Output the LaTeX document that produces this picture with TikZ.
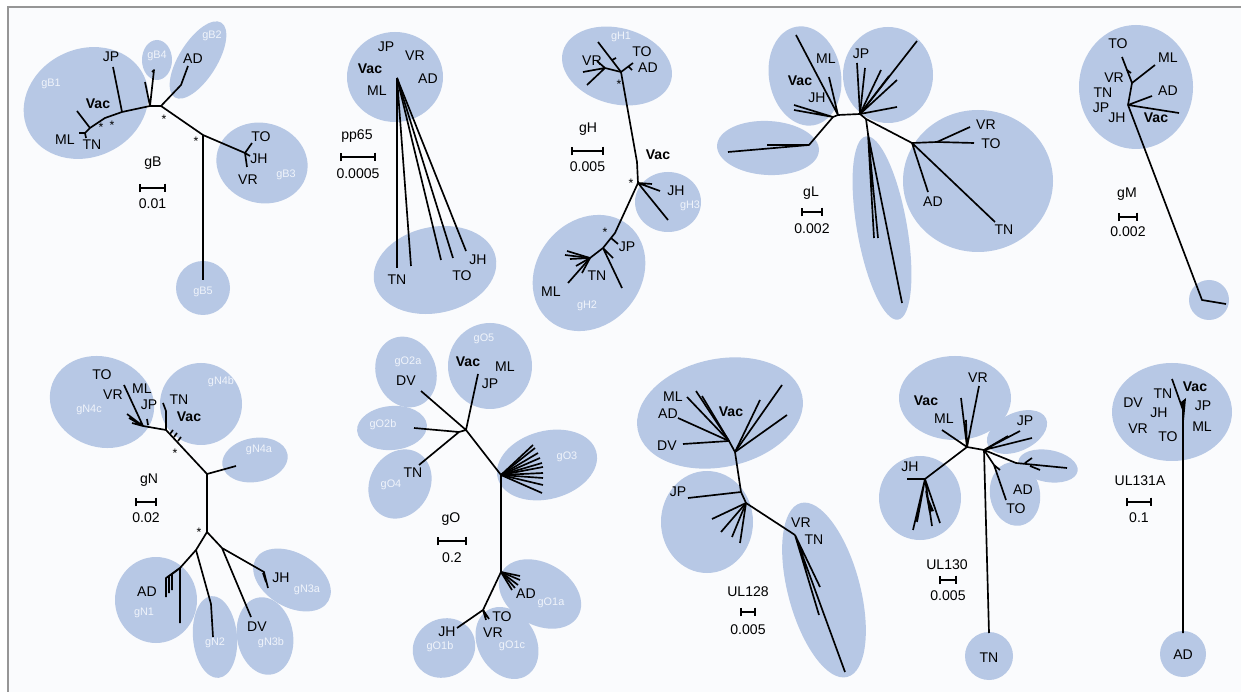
\documentclass[tikz,border=0pt]{standalone}
\usepackage{fontspec}
\setmainfont{Liberation Sans}
\usetikzlibrary{arrows.meta}
\definecolor{cladeblue}{RGB}{183,200,229}
\definecolor{tagwhite}{RGB}{240,244,251}
\definecolor{panelbg}{RGB}{250,251,253}
\definecolor{framegray}{RGB}{150,150,150}
\tikzset{
    clade/.style={fill=cladeblue},
    branch/.style={line width=0.95pt, line join=round},
    taxon/.style={font=\fontsize{8}{9}\selectfont, inner sep=0pt},
    vac/.style={taxon, font=\fontsize{8}{9}\selectfont\bfseries},
    tag/.style={text=tagwhite, font=\fontsize{6.2}{7}\selectfont, inner sep=0pt},
    star/.style={font=\fontsize{7}{7}\selectfont, inner sep=0pt, yshift=-1.5pt},
    scalebar/.style={line width=0.95pt, {Bar[width=5pt]}-{Bar[width=5pt]}},
}

\begin{document}
\begin{tikzpicture}[x=0.02cm, y=-0.02cm]
    % Canvas and frame
    \useasboundingbox (0,0) rectangle (1241,692);
    \fill[white] (0,0) rectangle (1241,692);
    \fill[panelbg] (8,7) rectangle (1241,692);
    \draw[framegray, line width=0.9pt] (8,692) -- (8,7) -- (1241,7);

    % Clade ellipses
    \foreach \cx/\cy/\rx/\ry/\a in {
        86/103/64/54/25, 157/60/15/20/0, 198/60/44/19/58, 262/163/46/40/-15, 203/288/27/27/0,
        395/77/48/45/0, 435/270/62/43/12,
        617/66/56/38/-15, 668/202/33/30/0, 589/273/62/52/50,
        805/76/36/50/10, 888/75/45/48/0, 768/148/51/27/-3, 882/228/25/93/10, 978/181/75/71/0,
        1136/87/57/62/0, 1209/300/20/20/0,
        102/402/53/45/-20, 201/404/41/41/0, 255/460/33/22/10, 156/600/41/43/0,
        215/637/22/41/5, 265/636/28/39/10, 292/580/42/27/-30,
        490/366/42/43/0, 406/372/30/36/20, 392/428/35/22/5, 400/484/30/36/-30,
        547/465/51/34/15, 540/594/44/31/-30, 444/648/32/29/30, 507/643/29/38/30,
        720/413/84/54/12, 707/522/46/51/0, 824/590/36/90/15,
        955/398/56/42/0, 1017/432/32/19/25, 1048/466/30/16/-10, 1015/494/25/32/10,
        920/498/41/42/0, 989/656/24/24/0,
        1172/412/60/49/0, 1183/654/23/23/0}
        \fill[clade, rotate around={\a:(\cx,\cy)}] (\cx,\cy) ellipse[x radius=\rx, y radius=\ry];

    % Clade tags
    \foreach \t/\x/\y in {gB1/51/84, gB4/157/56, gB2/212/36, gB3/286/175, gB5/203/292,
        gH1/621/37, gH3/690/206, gH2/587/306,
        gN4c/89/410, gN4b/221/382, gN4a/259/450, gN1/144/613, gN2/215/643, gN3b/271/643, gN3a/307/590,
        gO5/484/339, gO2a/408/362, gO2b/383/425, gO4/391/485, gO3/567/457, gO1a/551/603, gO1b/440/647, gO1c/512/646}
        \node[tag] (tag-\t) at (\x,\y) {\t};

    % Gene names and scale bars
    \foreach \g/\gx/\gy/\xa/\xb/\by/\v/\vy in {
        gB/153/163/139/166/188/0.01/204, pp65/357/136/340/376/157/0.0005/174,
        gH/588/129/571/604/151/0.005/167, gL/811/193/801/823/212/0.002/229,
        gM/1127/194/1118/1138/217/0.002/232, gN/149/480/135/157/502/0.02/518,
        gO/451/519/437/467/541/0.2/558, UL128/748/592/740/756/612/0.005/630,
        UL130/947/565/939/957/580/0.005/596, UL131A/1140/481/1126/1152/502/0.1/518} {
        \node[taxon] (gene-\g) at (\gx,\gy) {\g};
        \draw[scalebar] (\xa,\by) -- (\xb,\by);
        \node[taxon] (scale-\g) at ({(\xa+\xb)/2},\vy) {\v};
    }

    % Tree gB
    \coordinate (b1) at (150,106);
    \coordinate (b2) at (161,106);
    \coordinate (b3) at (122,112);
    \coordinate (b4) at (105,118);
    \coordinate (b5) at (90,128);
    \coordinate (b6) at (85,133);
    \coordinate (b7) at (203,135);
    \coordinate (b8) at (245,153);
    \coordinate (b9) at (181,85);
    \draw[branch] (b2) -- (b1) -- (b3) -- (b4) -- (b5) -- (b6);
    \draw[branch] (b3) -- (113,67) (b5) -- (77,111);
    \draw[branch] (b6) -- (79,133) (b6) -- (86,138);
    \draw[branch] (b1) -- (154,70) -- (152,72) (b1) -- (145,82);
    \draw[branch] (b2) -- (b9) -- (188,66);
    \draw[branch] (b2) -- (b7) -- (b8);
    \draw[branch] (b8) -- (252,143) (b8) -- (250,156) (b8) -- (247,167);
    \draw[branch] (b7) -- (203,280);
    \foreach \x/\y [count=\i] in {164/117, 196/139, 101/125, 112/123}
        \node[star] (bs\i) at (\x,\y) {*};
    \foreach \t/\x/\y in {JP/111/57, ML/65/140, TN/92/145, AD/193/59, TO/261/137, JH/259/159, VR/248/180}
        \node[taxon] (b\t) at (\x,\y) {\t};
    \node[vac] (bVac) at (98,104) {Vac};

    % Tree pp65
    \coordinate (p1) at (397,78);
    \foreach \x/\y in {397/268, 411/266, 441/260, 453/258, 466/251}
        \draw[branch] (p1) -- (\x,\y);
    \foreach \t/\x/\y in {JP/386/47, VR/415/56, AD/428/79, ML/377/91, TN/397/280, TO/462/276, JH/478/260}
        \node[taxon] (p\t) at (\x,\y) {\t};
    \node[vac] (pVac) at (370,69) {Vac};

    % Tree gH
    \coordinate (h1) at (621,72);
    \coordinate (h2) at (637,162);
    \coordinate (h3) at (638,183);
    \coordinate (h4) at (615,233);
    \coordinate (h5) at (603,248);
    \coordinate (h6) at (590,258);
    \coordinate (h7) at (605,68);
    \draw[branch] (h1) -- (h2) -- (h3) -- (h4) -- (h5) -- (h6) -- (568,283);
    \draw[branch] (h1) -- (598,42) (612,60) -- (616,58);
    \draw[branch] (h1) -- (h7) -- (583,72) (h7) -- (587,85) (h7) -- (597,61);
    \draw[branch] (h1) -- (633,63) (628,66) -- (632,70);
    \draw[branch] (h3) -- (660,191) (h3) -- (668,220) (h3) -- (652,184);
    \draw[branch] (611,238) -- (618,244);
    \draw[branch] (h5) -- (622,288) (h5) -- (613,258);
    \foreach \x/\y in {565/255, 570/259, 576/266, 582/273, 567/251}
        \draw[branch] (h6) -- (\x,\y);
    \foreach \x/\y [count=\i] in {619/82, 631/181, 605/230}
        \node[star] (hs\i) at (\x,\y) {*};
    \foreach \t/\x/\y in {VR/592/61, TO/642/52, AD/648/68, JH/676/191, JP/627/247, TN/597/276, ML/551/292}
        \node[taxon] (h\t) at (\x,\y) {\t};
    \node[vac] (hVac) at (658,155) {Vac};

    % Tree gL
    \coordinate (l0) at (833,117);
    \coordinate (l1) at (838,115);
    \coordinate (l2) at (860,114);
    \coordinate (l3) at (866,119);
    \coordinate (l4) at (912,143);
    \coordinate (l5) at (809,145);
    \coordinate (l6) at (868,134);
    \coordinate (l7) at (937,142);
    \draw[branch] (l0) -- (l1) -- (l2) -- (l3) -- (l4) -- (l7) -- (974,143);
    \draw[branch] (l0) -- (l5) -- (728,152) (l5) -- (767,145);
    \draw[branch] (l1) -- (796,35) (l1) -- (829,77) (l0) -- (794,105) (l0) -- (794,110);
    \foreach \x/\y in {857/63, 865/68, 917/41, 897/80, 881/70, 889/76, 897/107}
        \draw[branch] (l2) -- (\x,\y);
    \draw[branch] (l3) -- (l6) -- (874,238) (l6) -- (878,238) (l6) -- (902,303);
    \draw[branch] (l7) -- (970,127) (l4) -- (928,192) (l4) -- (995,222);
    \foreach \t/\x/\y in {ML/826/59, JH/817/98, JP/861/54, VR/986/125, TO/991/144, AD/933/202, TN/1004/230}
        \node[taxon] (l\t) at (\x,\y) {\t};
    \node[vac] (lVac) at (800,81) {Vac};

    % Tree gM
    \coordinate (m1) at (1128,105);
    \coordinate (m2) at (1132,83);
    \coordinate (m3) at (1202,300);
    \draw[branch] (m1) -- (m2) -- (1122,57) (m2) -- (1155,65);
    \draw[branch] (m1) -- (1152,96) (m1) -- (1179,113);
    \draw[branch] (m1) -- (m3) -- (1226,304);
    \draw[branch] (1127,70) -- (1131,73);
    \foreach \t/\x/\y in {TO/1118/44, ML/1168/58, VR/1114/78, AD/1168/91, TN/1103/93, JP/1101/108, JH/1117/118}
        \node[taxon] (m\t) at (\x,\y) {\t};
    \node[vac] (mVac) at (1156,118) {Vac};

    % Tree gN
    \coordinate (n0) at (143,426);
    \coordinate (n1) at (166,430);
    \coordinate (n2) at (207,474);
    \coordinate (n3) at (207,532);
    \coordinate (n4) at (196,550);
    \coordinate (n5) at (180,568);
    \coordinate (n6) at (222,548);
    \draw[branch] (n0) -- (n1) -- (n2) -- (236,466);
    \draw[branch] (n2) -- (n3) -- (n4) -- (n5) (n3) -- (n6);
    \draw[branch] (n0) -- (124,385) (n0) -- (127,414) (n0) -- (129,418) (n0) -- (132,423);
    \draw[branch] (147,419) -- (148,425);
    \draw[branch] (n1) -- (166,411) -- (163,403);
    \draw[branch] (170,434) -- (173,430) (174,437) -- (177,433) (178,441) -- (181,437);
    \draw[branch] (n4) -- (211,604) -- (213,637);
    \draw[branch] (n5) -- (166,578) -- (166,597) (n5) -- (169,576) -- (169,593);
    \draw[branch] (n5) -- (172,574) -- (172,590) (n5) -- (180,623);
    \draw[branch] (n6) -- (251,617) (n6) -- (264,572) -- (268,588) (263,573) -- (266,582);
    \foreach \x/\y [count=\i] in {175/451, 199/530}
        \node[star] (ns\i) at (\x,\y) {*};
    \foreach \t/\x/\y in {TO/102/375, VR/113/395, ML/142/389, JP/149/405, TN/179/400, AD/147/592, DV/257/627, JH/281/578}
        \node[taxon] (n\t) at (\x,\y) {\t};
    \node[vac] (nVac) at (189,417) {Vac};

    % Tree gO
    \coordinate (o0) at (459,432);
    \coordinate (o1) at (466,430);
    \coordinate (o2) at (501,475);
    \coordinate (o3) at (501,572);
    \coordinate (o4) at (483,610);
    \draw[branch] (o1) -- (478,374) (o1) -- (421,391) (o1) -- (o0) -- (414,428) (o0) -- (419,465);
    \draw[branch] (o1) -- (o2) -- (o3) -- (o4) -- (457,628);
    \foreach \x/\y in {533/445, 535/448, 538/453, 540/458, 542/463, 543/467, 543/473, 543/478, 543/485, 542/493}
        \draw[branch] (o2) -- (\x,\y);
    \foreach \x/\y in {520/576, 520/580, 518/585, 515/588, 512/590}
        \draw[branch] (o3) -- (\x,\y);
    \foreach \x/\y in {487/617, 489/619, 486/620}
        \draw[branch] (o4) -- (\x,\y);
    \foreach \t/\x/\y in {ML/505/367, JP/490/384, DV/406/381, TN/413/473, AD/526/594, TO/502/617, VR/493/633, JH/447/632}
        \node[taxon] (o\t) at (\x,\y) {\t};
    \node[vac] (oVac) at (468,362) {Vac};

    % Tree UL128
    \coordinate (u1) at (735,452);
    \coordinate (u2) at (741,492);
    \coordinate (u3) at (746,503);
    \coordinate (u4) at (795,535);
    \coordinate (u5) at (729,441);
    \draw[branch] (u5) -- (u1) -- (u2) -- (u3) -- (u4);
    \foreach \x/\y in {687/397, 678/418, 683/444, 696/391, 702/396}
        \draw[branch] (u5) -- (\x,\y);
    \foreach \x/\y in {782/385, 760/400, 787/415}
        \draw[branch] (u1) -- (\x,\y);
    \draw[branch] (u2) -- (688,498);
    \foreach \x/\y in {712/519, 721/532, 732/537, 740/543}
        \draw[branch] (u3) -- (\x,\y);
    \draw[branch] (u4) -- (820,587) (u4) -- (819,615) (u4) -- (845,672);
    \foreach \t/\x/\y in {ML/673/397, AD/668/414, DV/667/446, JP/678/492, VR/801/523, TN/814/540}
        \node[taxon] (u\t) at (\x,\y) {\t};
    \node[vac] (uVac) at (731,412) {Vac};

    % Tree UL130
    \coordinate (c1) at (967,447);
    \coordinate (c2) at (984,450);
    \coordinate (c3) at (925,479);
    \coordinate (c4) at (1016,463);
    \coordinate (c5) at (994,465);
    \draw[branch] (c3) -- (c1) -- (c2) -- (989,633);
    \draw[branch] (c1) -- (961,398) (c1) -- (979,386) (c1) -- (942,430) (c1) -- (966,420);
    \draw[branch] (c3) -- (907,479) (c3) -- (913,530) (c3) -- (917,522) (c3) -- (932,526) (c3) -- (940,523);
    \fill (925,490) -- (929,512) -- (934,511) -- cycle;
    \draw[branch] (c2) -- (1032,438) (c2) -- (1020,431) (c2) -- (1008,436);
    \draw[branch] (c2) -- (c4) -- (1067,468) (1025,463) -- (1032,458) (1030,466) -- (1040,470);
    \draw[branch] (c2) -- (c5) -- (1006,500) (c5) -- (1000,470);
    \foreach \t/\x/\y in {ML/944/419, VR/978/378, JP/1025/421, AD/1023/490, TO/1016/509, JH/910/467, TN/989/658}
        \node[taxon] (c\t) at (\x,\y) {\t};
    \node[vac] (cVac) at (926,401) {Vac};

    % Tree UL131A
    \coordinate (a1) at (1183,633);
    \coordinate (a2) at (1183,410);
    \draw[branch] (a1) -- (a2) -- (1172,379);
    \fill (1181,402) -- (1186,398) -- (1184,420) -- cycle;
    \foreach \t/\x/\y in {JP/1203/406, ML/1202/427, TN/1163/394, DV/1133/403, JH/1159/413, VR/1138/429, TO/1168/437, AD/1183/655}
        \node[taxon] (a\t) at (\x,\y) {\t};
    \node[vac] (aVac) at (1195,387) {Vac};
\end{tikzpicture}
\end{document}
